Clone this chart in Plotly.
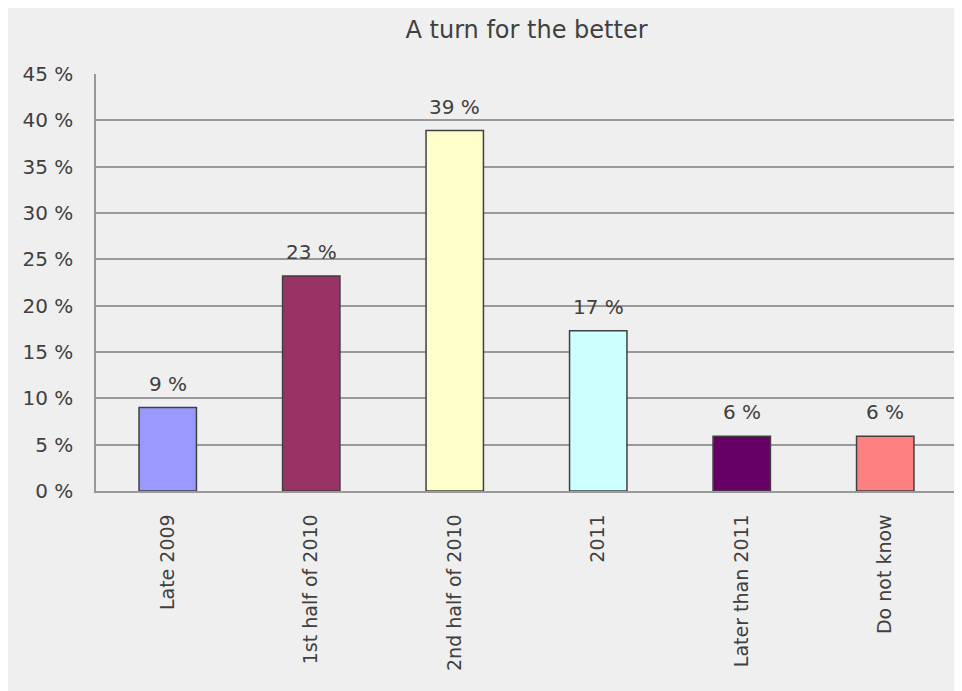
import plotly.graph_objects as go

categories = ["Late 2009", "1st half of 2010", "2nd half of 2010", "2011", "Later than 2011", "Do not know"]
values = [9.0, 23.2, 38.9, 17.3, 5.9, 5.9]
labels = ["9 %", "23 %", "39 %", "17 %", "6 %", "6 %"]
colors = ["#9999ff", "#993366", "#ffffcc", "#ccffff", "#660066", "#ff8080"]
y_ticks = [0, 5, 10, 15, 20, 25, 30, 35, 40, 45]

FONT = "DejaVu Sans"
TXT = "#404040"

fig = go.Figure()
fig.add_trace(go.Bar(
    x=categories, y=values,
    marker=dict(color=colors, line=dict(color="#404040", width=1.5)),
    hoverinfo="skip",
))

# annotations placed by category index (avoids "2011" being read as a number)
for i, (v, t) in enumerate(zip(values, labels)):
    fig.add_annotation(x=i, y=v, text=t, showarrow=False, yanchor="bottom", yshift=10,
                       font=dict(family=FONT, size=20, color=TXT))

# page body has an 8px margin, so figure is 8px smaller than the window
W, H = 954, 683
ml, mr, mt, mb = 88, 5, 66, 200

fig.update_layout(
    width=W, height=H,
    margin=dict(l=ml, r=mr, t=mt, b=mb),
    paper_bgcolor="#efefef", plot_bgcolor="rgba(0,0,0,0)",
    bargap=0.6,
    showlegend=False,
    title=dict(text="A turn for the better", x=0.5, xref="paper", xanchor="center",
               y=1 - 22 / H, yref="container", yanchor="middle",
               font=dict(family=FONT, size=24, color=TXT)),
    font=dict(family=FONT, color=TXT),
    xaxis=dict(type="category", range=[-0.5, len(categories) - 0.5], autorange=False,
               tickangle=-90, tickfont=dict(family=FONT, size=19, color=TXT),
               showline=True, linecolor="#999999", linewidth=1.5, showgrid=False,
               ticks="", ticklabelstandoff=14),
    yaxis=dict(range=[0, 45], autorange=False, tickvals=y_ticks, ticktext=[f"{v} %" for v in y_ticks],
               tickfont=dict(family=FONT, size=20, color=TXT),
               showline=True, linecolor="#999999", linewidth=1.5,
               showgrid=True, gridcolor="#999999", gridwidth=1.5,
               zeroline=False, ticks="", ticklabelstandoff=17),
)

fig.write_html("out.html")
